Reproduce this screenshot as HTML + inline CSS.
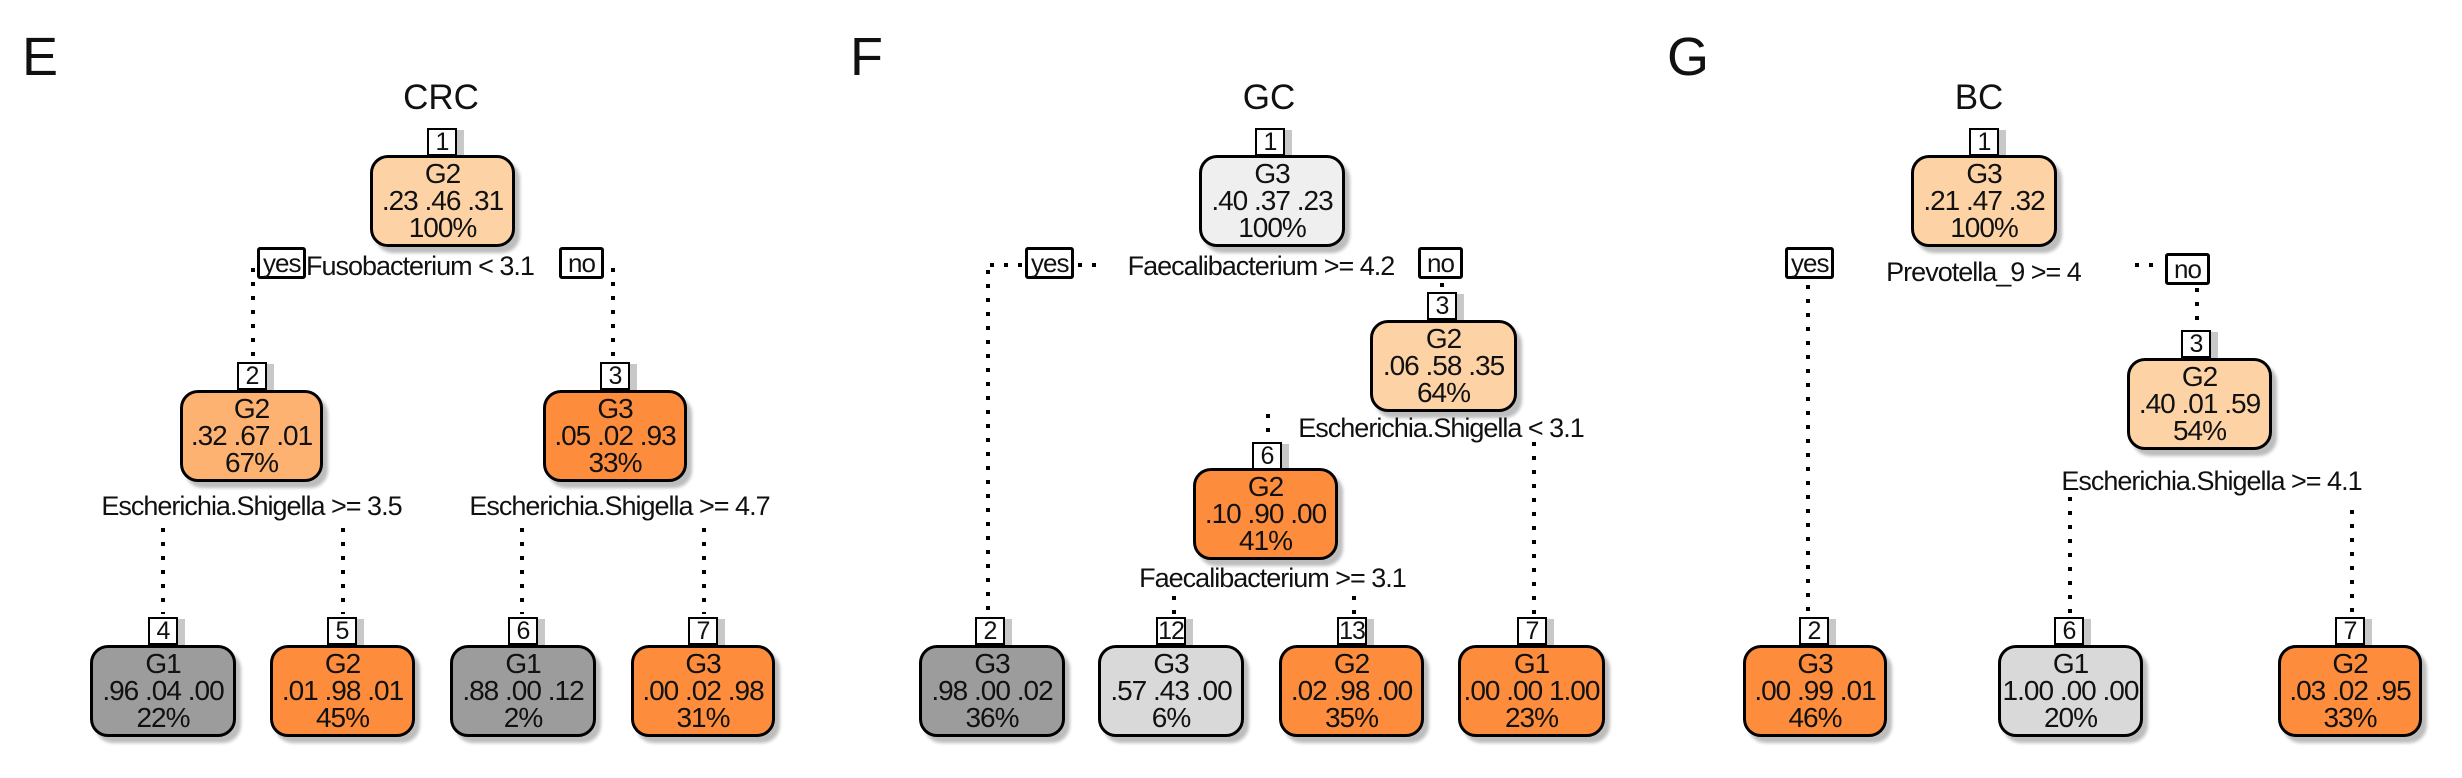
<!DOCTYPE html>
<html><head><meta charset="utf-8"><style>
body{margin:0;background:#fff;}
#c{position:relative;width:2462px;height:778px;overflow:hidden;background:#fff;font-family:"Liberation Sans",Arial,sans-serif;color:#111;}
.p{position:absolute;font-size:54px;line-height:1;}
.ttl{position:absolute;font-size:35px;line-height:1;width:200px;text-align:center;}
.n{position:absolute;height:84px;border:3px solid #000;border-radius:18px;box-shadow:5px 6px 3px #bdbdbd;text-align:center;font-size:28px;letter-spacing:-1px;line-height:27px;padding-top:2px;box-sizing:content-box;white-space:nowrap;}
.l{position:absolute;width:26px;height:24px;border:2px solid #000;background:#fff;text-align:center;font-size:25px;letter-spacing:-1px;line-height:25px;box-shadow:7px 2px 0 #c8c8c8;}
.yn{position:absolute;border:3px solid #000;border-radius:3px;background:#fff;font-size:26px;letter-spacing:-1px;line-height:26px;padding:0 3px;}
.s{position:absolute;font-size:27px;letter-spacing:-1px;line-height:1;white-space:nowrap;text-align:center;}
</style></head><body><div id="c">
<svg width="2462" height="778" style="position:absolute;left:0;top:0" fill="none" stroke="#000" stroke-width="4" stroke-dasharray="4 10">
<line x1="253" y1="268" x2="253" y2="362"/><line x1="613" y1="268" x2="613" y2="362"/>
<line x1="163" y1="528" x2="163" y2="614"/><line x1="343" y1="528" x2="343" y2="614"/>
<line x1="522" y1="528" x2="522" y2="614"/><line x1="704" y1="528" x2="704" y2="614"/>
<line x1="990" y1="265" x2="1022" y2="265"/><line x1="1078" y1="265" x2="1100" y2="265"/>
<line x1="988" y1="270" x2="988" y2="614"/><line x1="1442" y1="283" x2="1442" y2="292"/>
<line x1="1268" y1="414" x2="1268" y2="442"/><line x1="1534" y1="442" x2="1534" y2="614"/>
<line x1="1174" y1="596" x2="1174" y2="614"/><line x1="1354" y1="596" x2="1354" y2="614"/>
<line x1="1808" y1="285" x2="1808" y2="614"/><line x1="2135" y1="265" x2="2160" y2="265"/>
<line x1="2197" y1="288" x2="2197" y2="330"/><line x1="2070" y1="497" x2="2070" y2="614"/>
<line x1="2352" y1="510" x2="2352" y2="614"/>
</svg>

<div class="p" style="left:22px;top:30px">E</div>
<div class="p" style="left:850px;top:30px">F</div>
<div class="p" style="left:1667px;top:30px">G</div>
<div class="ttl" style="left:341px;top:80px">CRC</div>
<div class="ttl" style="left:1169px;top:80px">GC</div>
<div class="ttl" style="left:1879px;top:80px">BC</div>

<div class="l" style="left:427px;top:128px">1</div>
<div class="n" style="left:370px;top:155px;width:139px;background:#fdd3a6">G2<br>.23 .46 .31<br>100%</div>
<div class="yn" style="left:257px;top:247px">yes</div>
<div class="s" style="left:306px;top:253px">Fusobacterium &lt; 3.1</div>
<div class="yn" style="left:559px;top:247px;padding:0 6px">no</div>

<div class="l" style="left:237px;top:362px">2</div>
<div class="n" style="left:180px;top:390px;width:137px;background:#fdb271">G2<br>.32 .67 .01<br>67%</div>
<div class="l" style="left:600px;top:362px">3</div>
<div class="n" style="left:543px;top:390px;width:138px;background:#fd8d3c">G3<br>.05 .02 .93<br>33%</div>
<div class="s" style="left:85px;top:493px;width:333px">Escherichia.Shigella &gt;= 3.5</div>
<div class="s" style="left:454px;top:493px;width:331px">Escherichia.Shigella &gt;= 4.7</div>

<div class="l" style="left:148px;top:617px">4</div>
<div class="n" style="left:90px;top:645px;width:140px;background:#9c9c9c">G1<br>.96 .04 .00<br>22%</div>
<div class="l" style="left:327px;top:617px">5</div>
<div class="n" style="left:270px;top:645px;width:139px;background:#fd8d3c">G2<br>.01 .98 .01<br>45%</div>
<div class="l" style="left:508px;top:617px">6</div>
<div class="n" style="left:450px;top:645px;width:140px;background:#9c9c9c">G1<br>.88 .00 .12<br>2%</div>
<div class="l" style="left:688px;top:617px">7</div>
<div class="n" style="left:631px;top:645px;width:138px;background:#fd8d3c">G3<br>.00 .02 .98<br>31%</div>

<div class="l" style="left:1255px;top:128px">1</div>
<div class="n" style="left:1199px;top:155px;width:140px;background:#efefef">G3<br>.40 .37 .23<br>100%</div>
<div class="yn" style="left:1025px;top:247px">yes</div>
<div class="s" style="left:1114px;top:253px;width:294px">Faecalibacterium &gt;= 4.2</div>
<div class="yn" style="left:1418px;top:247px;padding:0 6px">no</div>
<div class="l" style="left:1427px;top:292px">3</div>
<div class="n" style="left:1370px;top:320px;width:141px;background:#fdd3a6">G2<br>.06 .58 .35<br>64%</div>
<div class="s" style="left:1283px;top:415px;width:316px">Escherichia.Shigella &lt; 3.1</div>
<div class="l" style="left:1252px;top:442px">6</div>
<div class="n" style="left:1193px;top:468px;width:139px;background:#fd8d3c">G2<br>.10 .90 .00<br>41%</div>
<div class="s" style="left:1126px;top:565px;width:293px">Faecalibacterium &gt;= 3.1</div>

<div class="l" style="left:975px;top:617px">2</div>
<div class="n" style="left:919px;top:645px;width:140px;background:#9c9c9c">G3<br>.98 .00 .02<br>36%</div>
<div class="l" style="left:1156px;top:617px">12</div>
<div class="n" style="left:1098px;top:645px;width:140px;background:#d9d9d9">G3<br>.57 .43 .00<br>6%</div>
<div class="l" style="left:1337px;top:617px">13</div>
<div class="n" style="left:1279px;top:645px;width:139px;background:#fd8d3c">G2<br>.02 .98 .00<br>35%</div>
<div class="l" style="left:1517px;top:617px">7</div>
<div class="n" style="left:1458px;top:645px;width:141px;background:#fd8d3c">G1<br>.00 .00 1.00<br>23%</div>

<div class="l" style="left:1969px;top:128px">1</div>
<div class="n" style="left:1911px;top:155px;width:140px;background:#fdd3a6">G3<br>.21 .47 .32<br>100%</div>
<div class="yn" style="left:1785px;top:247px">yes</div>
<div class="s" style="left:1877px;top:259px;width:213px">Prevotella_9 &gt;= 4</div>
<div class="yn" style="left:2165px;top:253px;padding:0 6px">no</div>
<div class="l" style="left:2181px;top:330px">3</div>
<div class="n" style="left:2127px;top:358px;width:139px;background:#fdd3a6">G2<br>.40 .01 .59<br>54%</div>
<div class="s" style="left:2046px;top:468px;width:331px">Escherichia.Shigella &gt;= 4.1</div>

<div class="l" style="left:1799px;top:617px">2</div>
<div class="n" style="left:1743px;top:645px;width:138px;background:#fd8d3c">G3<br>.00 .99 .01<br>46%</div>
<div class="l" style="left:2054px;top:617px">6</div>
<div class="n" style="left:1998px;top:645px;width:139px;background:#d9d9d9">G1<br>1.00 .00 .00<br>20%</div>
<div class="l" style="left:2335px;top:617px">7</div>
<div class="n" style="left:2278px;top:645px;width:138px;background:#fd8d3c">G2<br>.03 .02 .95<br>33%</div>
</div></body></html>
